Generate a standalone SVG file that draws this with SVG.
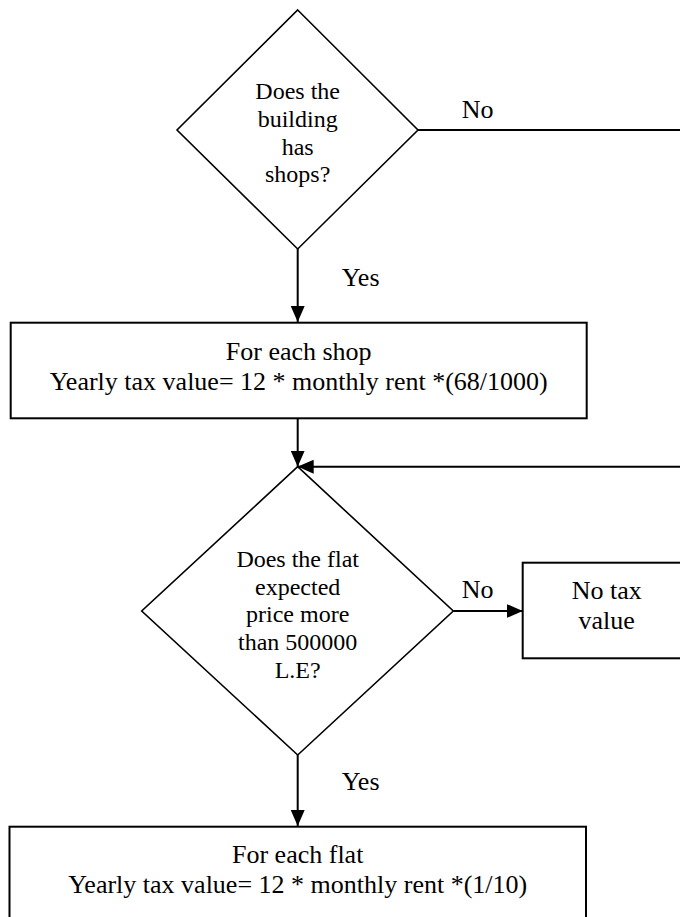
<svg xmlns="http://www.w3.org/2000/svg" width="680" height="917" viewBox="0 0 680 917">
<style>
text{font-family:"Liberation Serif","Times New Roman",serif;fill:#000}
.d{font-size:24px;text-anchor:middle}
.b{font-size:26px;text-anchor:middle}
.l{font-size:26px}
.shape{fill:#fff;stroke:#000;stroke-width:1.6}
.box{fill:#fff;stroke:#000;stroke-width:2}
.c{fill:none;stroke:#000;stroke-width:2}
</style>
<defs>
<marker id="ah" viewBox="0 0 16 14" refX="16" refY="7" markerWidth="16" markerHeight="14" markerUnits="userSpaceOnUse" orient="auto">
<path d="M0,0 L16,7 L0,14 z" fill="#000"/>
</marker>
</defs>
<rect width="680" height="917" fill="#fff"/>
<g id="connectors">
<path class="c" d="M297.7,249 V322" marker-end="url(#ah)"/>
<path class="c" d="M418,130 H682"/>
<path class="c" d="M297.7,418.3 V466.7" marker-end="url(#ah)"/>
<path class="c" d="M682,466.7 H297.7" marker-end="url(#ah)"/>
<path class="c" d="M453.3,611 H522.7" marker-end="url(#ah)"/>
<path class="c" d="M297.7,755 V826" marker-end="url(#ah)"/>
<text class="l" x="461.7" y="118.3">No</text>
<text class="l" x="341.7" y="285.7">Yes</text>
<text class="l" x="461.7" y="598.3">No</text>
<text class="l" x="341.7" y="790">Yes</text>
</g>
<g id="decision-shops">
<polygon class="shape" points="297.7,10 418,130 297.7,249 177,130"/>
<text class="d" x="297.7" y="99">Does the</text>
<text class="d" x="297.7" y="127">building</text>
<text class="d" x="297.7" y="155">has</text>
<text class="d" x="297.7" y="182">shops?</text>
</g>
<g id="shop-tax">
<rect class="box" x="10.7" y="322.7" width="576" height="95.6"/>
<text class="b" x="298.7" y="360">For each shop</text>
<text class="b" x="298.7" y="390">Yearly tax value= 12 * monthly rent *(68/1000)</text>
</g>
<g id="decision-flat">
<polygon class="shape" points="297.7,466.7 453.3,611 297.7,755 141.7,611"/>
<text class="d" x="297.7" y="566.7">Does the flat</text>
<text class="d" x="297.7" y="594.5">expected</text>
<text class="d" x="297.7" y="622.3">price more</text>
<text class="d" x="297.7" y="650.1">than 500000</text>
<text class="d" x="297.7" y="678">L.E?</text>
</g>
<g id="no-tax">
<rect class="box" x="522.7" y="562.7" width="168" height="95.6"/>
<text class="b" x="606.7" y="599.3">No tax</text>
<text class="b" x="606.7" y="629.3">value</text>
</g>
<g id="flat-tax">
<rect class="box" x="9.5" y="826.7" width="576.5" height="110"/>
<text class="b" x="297.7" y="863.3">For each flat</text>
<text class="b" x="297.7" y="893.3">Yearly tax value= 12 * monthly rent *(1/10)</text>
</g>
</svg>
